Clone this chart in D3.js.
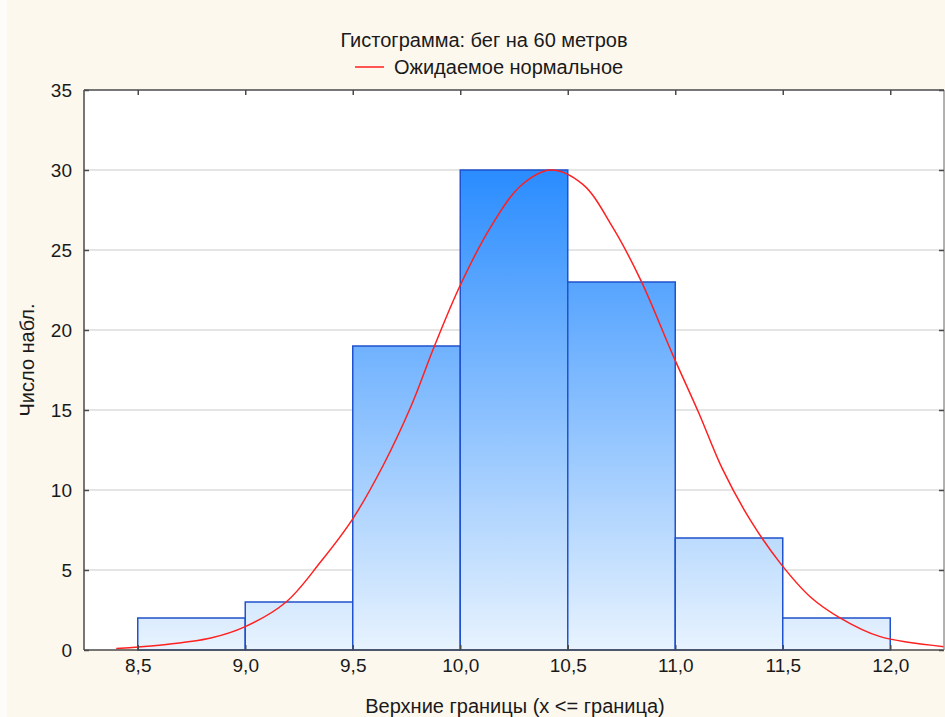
<!DOCTYPE html>
<html>
<head>
<meta charset="utf-8">
<script src="https://cdn.jsdelivr.net/npm/d3@7"></script>
<style>
body { margin: 0; background: #fdf8ee; }
svg { display: block; font-family: "Liberation Sans", Arial, sans-serif; }
</style>
</head>
<body>
<svg id="chart" width="945" height="717"></svg>
<script>
// bins (upper bounds) and counts
var binStart = [8.5, 9.0, 9.5, 10.0, 10.5, 11.0, 11.5];
var binEnd   = [9.0, 9.5, 10.0, 10.5, 11.0, 11.5, 12.0];
var counts   = [2, 3, 19, 30, 23, 7, 2];

// expected normal curve
var curveX = [8.40, 8.60, 8.84, 9.00, 9.19, 9.35, 9.50, 9.64, 9.77, 9.88, 10.00, 10.14, 10.28, 10.42, 10.57, 10.71, 10.84, 10.99, 11.11, 11.22, 11.35, 11.49, 11.63, 11.77, 11.95, 12.25];
var curveY = [0.1, 0.3, 0.75, 1.46, 3.0, 5.5, 8.2, 11.5, 15.2, 19.0, 22.8, 26.4, 29.0, 30.0, 29.1, 26.4, 23.1, 18.4, 14.8, 11.3, 8.1, 5.4, 3.3, 1.98, 0.85, 0.21];

var xTicks = [8.5, 9.0, 9.5, 10.0, 10.5, 11.0, 11.5, 12.0];
var yTicks = [0, 5, 10, 15, 20, 25, 30, 35];

var titleText = "Гистограмма: бег на 60 метров";
var legendText = "Ожидаемое нормальное";
var xTitle = "Верхние границы (x <= граница)";
var yTitle = "Число набл.";

var svg = d3.select("#chart");
var L = 84, R = 944, T = 90, B = 650;

var x = d3.scaleLinear().domain([8.25, 12.25]).range([L, R]);
var y = d3.scaleLinear().domain([0, 35]).range([B, T]);
var fmt = function(d){ return d3.format(".1f")(d).replace(".", ","); };

svg.append("rect").attr("width", 945).attr("height", 717).attr("fill", "#fdf8ee");
svg.append("rect").attr("width", 7).attr("height", 717).attr("fill", "#fefcf8");

var defs = svg.append("defs");
var grad = defs.append("linearGradient").attr("id", "barGrad")
  .attr("gradientUnits", "userSpaceOnUse")
  .attr("x1", 0).attr("x2", 0).attr("y1", y(30)).attr("y2", y(0));
grad.append("stop").attr("offset", "0%").attr("stop-color", "#2a8cff");
grad.append("stop").attr("offset", "100%").attr("stop-color", "#e8f3fe");

defs.append("clipPath").attr("id", "plotClip").append("rect")
  .attr("x", L).attr("y", T).attr("width", R - L).attr("height", B - T);

// plot area
svg.append("rect").attr("x", L).attr("y", T).attr("width", R - L).attr("height", B - T).attr("fill", "#ffffff");

// grid lines
svg.append("g").selectAll("line").data(yTicks.filter(function(d){ return d > 0 && d < 35; }))
  .enter().append("line")
  .attr("x1", L).attr("x2", R)
  .attr("y1", function(d){ return y(d); }).attr("y2", function(d){ return y(d); })
  .attr("stroke", "#dcdcdc").attr("stroke-width", 1.5);

// bars
svg.append("g").selectAll("rect").data(counts).enter().append("rect")
  .attr("x", function(d, i){ return x(binStart[i]); })
  .attr("y", function(d){ return y(d); })
  .attr("width", function(d, i){ return x(binEnd[i]) - x(binStart[i]); })
  .attr("height", function(d){ return B - y(d); })
  .attr("fill", "url(#barGrad)")
  .attr("stroke", "#1f52cc").attr("stroke-width", 1.5);

// normal curve
var pts = curveX.map(function(v, i){ return [v, curveY[i]]; });
var line = d3.line().x(function(d){ return x(d[0]); }).y(function(d){ return y(d[1]); })
  .curve(d3.curveCatmullRom.alpha(0.5));
svg.append("path").datum(pts).attr("d", line)
  .attr("clip-path", "url(#plotClip)")
  .attr("fill", "none").attr("stroke", "#ff2020").attr("stroke-width", 1.5);

// frame
svg.append("line").attr("x1", L).attr("x2", R).attr("y1", T).attr("y2", T).attr("stroke", "#4a4a4a").attr("stroke-width", 1.5);
svg.append("line").attr("x1", L).attr("x2", L).attr("y1", T).attr("y2", B).attr("stroke", "#4a4a4a").attr("stroke-width", 1.5);
svg.append("line").attr("x1", L).attr("x2", R).attr("y1", B).attr("y2", B).attr("stroke", "#4a4a4a").attr("stroke-width", 1.5);
svg.append("line").attr("x1", R).attr("x2", R).attr("y1", T).attr("y2", B).attr("stroke", "#999999").attr("stroke-width", 1.5);

// axes with inward ticks
var yAxis = d3.axisLeft(y).tickValues(yTicks).tickSize(-5).tickPadding(12).tickFormat(d3.format("d"));
var gy = svg.append("g").attr("transform", "translate(" + L + ",0)").call(yAxis);
var gyR = svg.append("g").attr("transform", "translate(" + R + ",0)").call(d3.axisRight(y).tickValues(yTicks).tickSize(-5).tickFormat(""));
var xAxis = d3.axisBottom(x).tickValues(xTicks).tickSize(-5).tickPadding(9).tickFormat(fmt);
var gx = svg.append("g").attr("transform", "translate(0," + B + ")").call(xAxis);
var gxT = svg.append("g").attr("transform", "translate(0," + T + ")").call(d3.axisTop(x).tickValues(xTicks).tickSize(-5).tickFormat(""));

[gy, gyR, gx, gxT].forEach(function(g){
  g.select(".domain").remove();
  g.selectAll(".tick line").attr("stroke", "#4a4a4a").attr("stroke-width", 1.5);
  g.selectAll("text").attr("font-size", 19).attr("fill", "#1a1a1a").attr("font-family", "Liberation Sans, Arial, sans-serif");
});

// titles
svg.append("text").attr("x", 484).attr("y", 47).attr("text-anchor", "middle")
  .attr("font-size", 20).attr("fill", "#1a1a1a").text(titleText);
svg.append("line").attr("x1", 355).attr("x2", 384).attr("y1", 67).attr("y2", 67)
  .attr("stroke", "#ff2020").attr("stroke-width", 1.5);
svg.append("text").attr("x", 394).attr("y", 74).attr("font-size", 20).attr("fill", "#1a1a1a").text(legendText);
svg.append("text").attr("x", 515).attr("y", 713).attr("text-anchor", "middle")
  .attr("font-size", 20).attr("fill", "#1a1a1a").text(xTitle);
svg.append("text").attr("transform", "translate(34,360) rotate(-90)").attr("text-anchor", "middle")
  .attr("font-size", 20).attr("fill", "#1a1a1a").text(yTitle);
</script>
</body>
</html>
